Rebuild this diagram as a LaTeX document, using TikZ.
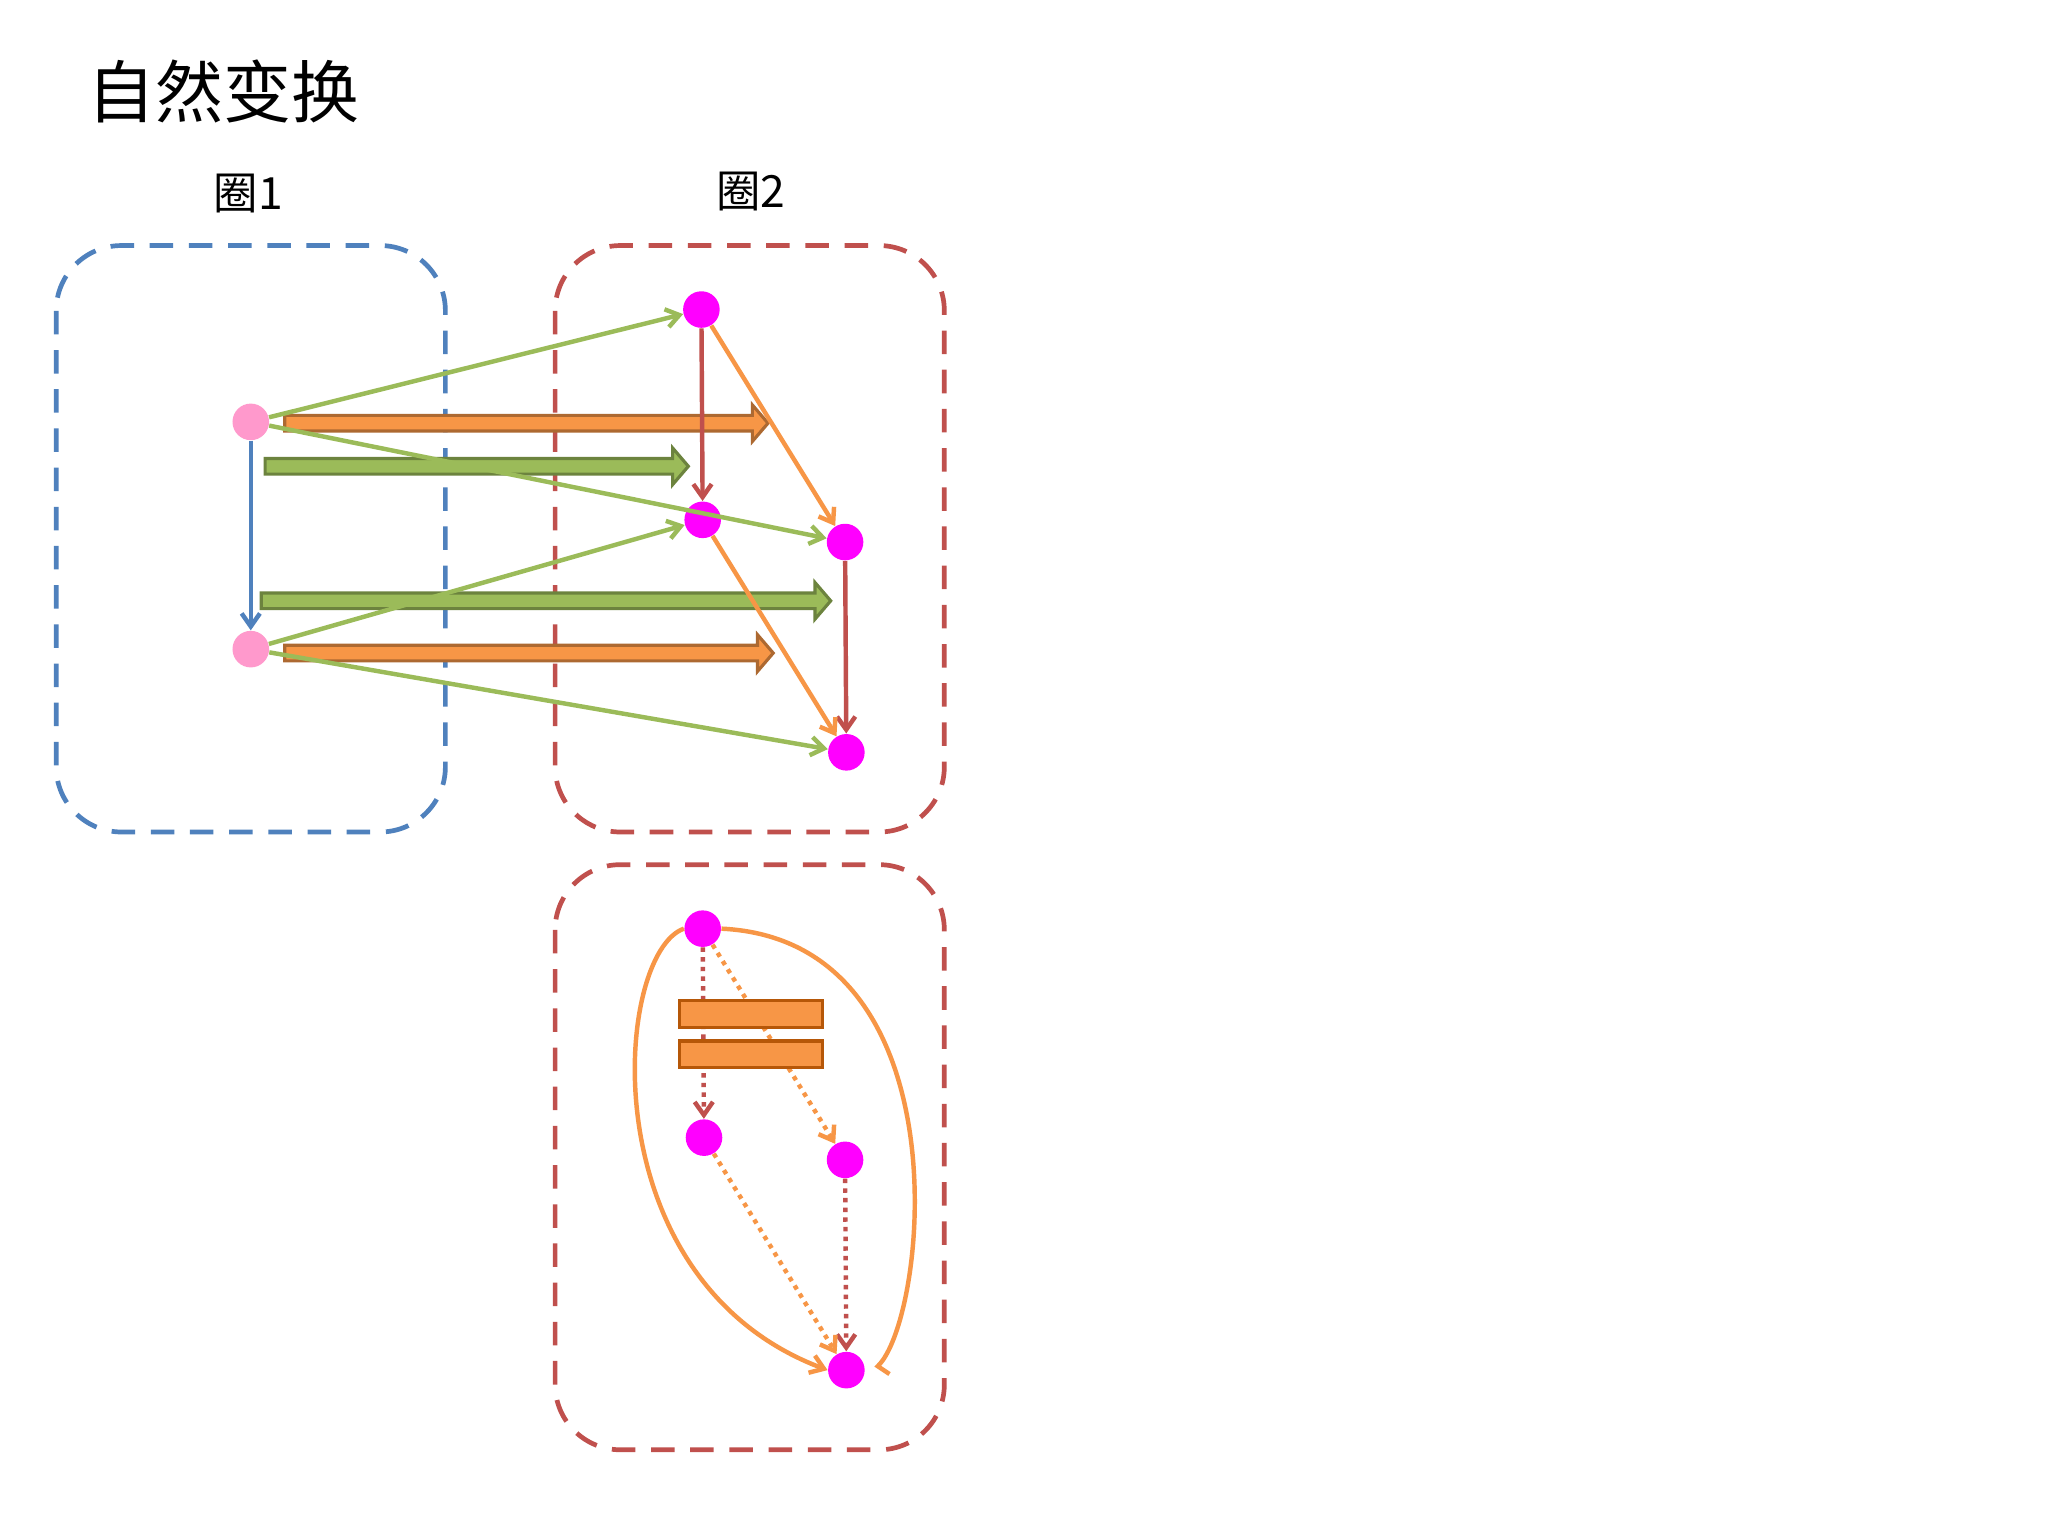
\documentclass[tikz,border=0pt]{standalone}
\usepackage{fontspec}
\newfontfamily\cjk{Noto Sans CJK SC}
\usetikzlibrary{arrows.meta}
\definecolor{cblue}{RGB}{79,129,189}
\definecolor{cred}{RGB}{192,80,77}
\definecolor{cgreen}{RGB}{155,187,89}
\definecolor{cgreenD}{RGB}{113,137,63}
\definecolor{corange}{RGB}{247,150,70}
\definecolor{corangeD}{RGB}{182,87,8}
\definecolor{cpink}{RGB}{255,153,204}
\definecolor{cmag}{RGB}{255,0,255}
\tikzset{
  cat/.style={draw, line width=1.8pt, dash pattern=on 9pt off 6pt, rounded corners=25pt},
  obj/.style={circle, fill=#1, minimum size=14pt, inner sep=0pt},
  mor/.style={draw=#1, line width=1.7pt, -{Straight Barb[length=5pt,width=7pt]}},
  dmor/.style={draw=#1, line width=1.7pt, dotted, -{Straight Barb[length=5pt,width=7pt]}},
  fat/.style={fill=#1, draw=#1!70!black, line width=1.2pt},
}
% fat arrow: x start, x end, y, fill colour
\newcommand\fatarrow[4]{%
  \draw[fat=#4] (#1,#3-6) -- (#2-12,#3-6) -- (#2-12,#3-14) -- (#2,#3) -- (#2-12,#3+14) -- (#2-12,#3+6) -- (#1,#3+6) -- cycle;}
\begin{document}
\begin{tikzpicture}[x=0.5pt,y=0.5pt,yscale=-1]
\useasboundingbox[fill=white] (0,0) rectangle (1568,1176);

% titles
\node[anchor=west, font=\cjk\fontsize{26}{30}\selectfont] (title) at (60,70) {自然变换};
\node[font=\cjk\fontsize{17}{20}\selectfont] (lab1) at (190,148) {圈1};
\node[font=\cjk\fontsize{17}{20}\selectfont] (lab2) at (575,147) {圈2};

% categories
\draw[cat, draw=cblue] (43,188) rectangle (341,637);
\draw[cat, draw=cred] (425,188) rectangle (723,637);
\draw[cat, draw=cred] (425,662) rectangle (723,1110);

% objects
\node[obj=cpink] (a1) at (192,323) {};
\node[obj=cpink] (a2) at (192,497) {};
\node[obj=cmag] (b1) at (537,237) {};
\node[obj=cmag] (b2) at (538,398) {};
\node[obj=cmag] (b3) at (647,415) {};
\node[obj=cmag] (b4) at (648,576) {};

% fat arrows
\fatarrow{218}{588}{324}{corange}
\fatarrow{203}{527}{357}{cgreen}
\fatarrow{200}{636}{460}{cgreen}
\fatarrow{218}{592}{500}{corange}

% morphisms
\draw[mor=cblue] (a1) -- (a2);
\draw[mor=cred] (b1) -- (b2);
\draw[mor=cred] (b3) -- (b4);
\draw[mor=corange] (b1) -- (b3);
\draw[mor=corange] (b2) -- (b4);
\draw[mor=cgreen] (a1) -- (b1);
\draw[mor=cgreen] (a1) -- (b3);
\draw[mor=cgreen] (a2) -- (b2);
\draw[mor=cgreen] (a2) -- (b4);

% lower square
\node[obj=cmag] (c1) at (538,711) {};
\node[obj=cmag] (c2) at (539,871) {};
\node[obj=cmag] (c3) at (647,888) {};
\node[obj=cmag] (c4) at (648,1049) {};
\draw[dmor=cred] (c1) -- (c2);
\draw[dmor=cred] (c3) -- (c4);
\draw[dmor=corange] (c1) -- (c3);
\draw[dmor=corange] (c2) -- (c4);
\draw[fill=corange, draw=corangeD, line width=1.2pt] (520,766) rectangle (630,787);
\draw[fill=corange, draw=corangeD, line width=1.2pt] (520,797) rectangle (630,817);
\draw[mor=corange] (c1.west) .. controls (470,730) and (450,980) .. (c4.west);
\draw[draw=corange, line width=1.7pt] (c1.east) .. controls (740,720) and (710,1010) .. (672,1046) -- (681,1052);
\end{tikzpicture}
\end{document}
